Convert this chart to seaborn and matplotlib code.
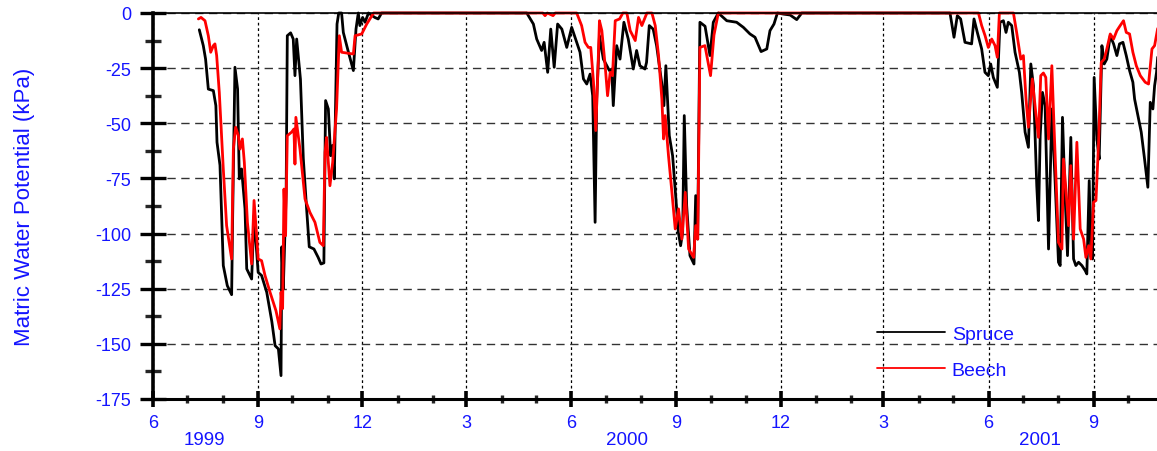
import numpy as np
import pandas as pd
import matplotlib
matplotlib.use("Agg")
import matplotlib.pyplot as plt
import matplotlib.dates as mdates
import matplotlib.transforms as mtransforms
from matplotlib.lines import Line2D
from matplotlib.ticker import MultipleLocator, FuncFormatter
import seaborn as sns

# ---- data (days since 1999-06-01, matric water potential in kPa) ----
start_date = "1999-06-01"
spruce_day = [40.5, 44, 46, 48.4, 52.8, 55, 56, 58.6, 61.5, 65, 68.8, 69.7, 71.7, 74, 75.5, 77.5,
              80.5, 82, 86.3, 88.4, 92, 95, 99.5, 104, 106.8, 109.7, 112, 112.7, 114, 116.5, 117.5,
              120.4, 122.7, 124.2, 125.7, 129, 131.5, 134.4, 136.7, 140.8, 144.5, 147, 149.5, 151,
              153.4, 155.4, 157.2, 158.6, 161, 162.5, 165, 166.5, 171, 175.3, 177.6, 179.6, 181,
              183.4, 185.5, 188.5, 194, 197, 200, 327, 332.8, 335.7, 340, 342.2, 345.3, 348, 351,
              354, 357.7, 362, 366.3, 370.7, 373.6, 376.6, 379.5, 382.4, 384.7, 386.8, 388.2, 390.6,
              394, 399.3, 401.3, 402.7, 405.7, 408.6, 412, 415.8, 420.2, 423.1, 426, 430.4, 431.8,
              434.2, 437.6, 440.6, 445, 447, 448.7, 451.7, 454.6, 457.5, 459.6, 461.6, 463.4, 464.8,
              466.9, 469.8, 473.3, 474.8, 476.5, 478.5, 483, 487.3, 490.2, 494.6, 502, 510.6, 516.5,
              522.3, 526.7, 532, 537, 539.8, 543.3, 546.3, 551.6, 557.4, 563.2, 567.6, 697.3, 700.8,
              703.7, 706.6, 710.4, 716.2, 718.3, 721.2, 725, 727.9, 730.8, 732.9, 735.2, 738.7, 741,
              744, 746.3, 748.3, 751.3, 754.2, 758, 760, 763, 765.9, 768, 770.3, 773.2, 774.7, 776.2,
              778.2, 780.5, 783.5, 786.4, 789.3, 792.2, 793.7, 795.7, 798.1, 800.1, 803, 805.4, 807.4,
              809.8, 812.7, 815.6, 817, 819.1, 820.5, 822, 823.4, 825.8, 827.8, 830.2, 832.2, 834.5,
              837.5, 840.4, 843.3, 845.6, 848.6, 851.5, 854.4, 857.3, 858.8, 861.7, 864.6, 867.5,
              870.4, 872.5, 874.8, 876.3, 878, 879]
spruce_kpa = [-7.6, -14.8, -20.9, -34.5, -35.2, -42, -58.6, -69, -114.5, -123.6, -127.7, -91.9, -24.6,
              -34.5, -75.2, -70.7, -88.8, -116, -120.6, -91.9, -117.6, -119, -126.6, -140, -150.8,
              -152.3, -164.4, -106, -125, -81, -10.3, -9, -11.8, -28.4, -11.8, -30, -66, -88.8, -106,
              -107, -110.8, -113.8, -113.3, -39.7, -43.5, -64.7, -60, -75.2, -5, 0, 0, -8.8, -17.8,
              -26.1, -7.3, 0, -5.7, -2, -4.2, 0, -2, -2.7, 0, 0, -5, -11.8, -17, -13.3, -26.9, -7.3,
              -24.6, -5, -7.3, -15.6, -6.5, -13.3, -17.8, -29.9, -32.2, -27.7, -37.5, -94.9, -39,
              -10.3, -20.9, -26.1, -25.4, -42, -14.8, -20.9, -4.2, -11.8, -25.4, -17, -23.9, -25.4,
              -22.4, -5.7, -7.3, -14.8, -31.4, -42, -23.9, -55.6, -64.7, -84.3, -99.4, -105.5, -99.4,
              -46.5, -87.3, -110, -113.8, -82.8, -102.5, -4.2, -6, -19.3, -4.2, 0, -3.5, -4.2, -6.5,
              -9.5, -11, -17.5, -16.3, -8, -5, 0, -0.5, -0.9, -3, 0, 0, -11, -1.2, -2.7, -13.3, -14,
              -2.7, -8.8, -16.3, -26.9, -28.4, -23.1, -29.2, -33.7, -4.2, -3.5, -8.8, -4.2, -5.7,
              -17.8, -26.9, -36, -54, -60.9, -23.1, -33, -78.3, -94.1, -55.6, -36, -42, -107, -43.5,
              -76.8, -113, -114.5, -47.3, -84.3, -110, -56.4, -111.5, -114.5, -113, -114.5, -116.8,
              -118.3, -76, -110, -111.5, -29.2, -57.1, -66.2, -14.8, -23.1, -20.9, -10.3, -14, -19.3,
              -14, -13.3, -19.3, -26.1, -31.4, -39, -46.5, -54, -66.2, -79, -40.5, -43.5, -33, -26.9,
              -20]

beech_day = [39.7, 42, 45.5, 48.4, 50.5, 52.8, 54.2, 55.7, 58, 61.5, 64.4, 68.8, 70.3, 72.3, 74.7,
             76.1, 78.2, 79.9, 82.6, 86.3, 88.4, 90.7, 92, 95, 98, 102.4, 107.6, 111, 112, 113.4,
             114.6, 116, 117.5, 121.3, 123.3, 124.2, 125, 128.6, 133, 137.3, 141.7, 146, 149, 150.5,
             151.9, 154.8, 157.2, 160.6, 163, 165, 175.3, 176.8, 182.6, 187, 193, 341, 343, 345, 350,
             352, 370.7, 375, 378, 380.9, 383, 385.4, 387.4, 388.9, 390.6, 392.7, 395.6, 397.7, 400,
             402, 404.4, 408.2, 411.1, 414.6, 417.5, 421.9, 424.8, 427.7, 432.1, 436.5, 439.4, 442.3,
             445.2, 446.7, 448.1, 451, 454, 456.9, 459.8, 462.7, 465.7, 468.6, 473, 474.8, 476.6,
             478.5, 482.9, 487.8, 490.8, 494.6, 722.2, 725, 728, 730.8, 733.8, 736.7, 738.7, 740.5,
             752.8, 755.6, 759.2, 761.5, 763.8, 765.9, 769.3, 772.6, 774.7, 776.7, 779, 781.1, 783.5,
             786.4, 788.5, 792.2, 795.2, 796.6, 798.7, 801, 803, 805.4, 808.3, 811.2, 814.2, 816.2,
             818.6, 820.5, 822.9, 825, 827.3, 829.6, 832.2, 834.5, 837.5, 840.4, 843.3, 846.2, 849.1,
             851.5, 854.4, 857.3, 860.3, 863.8, 868.1, 871, 874, 876.3, 878.6, 879]
beech_kpa = [-2.7, -2, -3.5, -10.3, -17.8, -14.8, -14, -19.3, -36, -70.7, -96.4, -111.5, -61.7, -51.8,
             -55.6, -61.7, -57.1, -67.7, -94.9, -113.8, -85, -101, -111.5, -112.3, -119, -126.6, -135,
             -143.2, -126.6, -134, -79.8, -101, -55.6, -54, -52.6, -68.5, -47.3, -61.7, -84.3, -90.4,
             -94.9, -104, -105.5, -63.2, -56.4, -78.3, -67.7, -43.5, -10.3, -17.8, -18.6, -10.3, -9.5,
             -5, 0, 0, -1.2, 0, -1.2, 0, 0, -5.7, -13.3, -15.6, -15.6, -31.4, -53.3, -31.4, -3.5, -8,
             -23.9, -37.5, -26.9, -28.4, -3.5, -2.7, 0, 0, -8, -12.5, -2, -5.7, 0, 0, -5.7, -19.3, -39,
             -57.1, -46.5, -64.7, -81.3, -97.9, -88.8, -102.5, -81.3, -107, -110.8, -96.4, -102.5,
             -15.6, -14.8, -28.4, -10, 0, 0, -5.7, -10.3, -15.6, -11.8, -14.8, -20.1, 0, 0, -8.8,
             -20.9, -19.3, -39, -51.8, -29.9, -46.5, -56.4, -28.4, -27.2, -29.2, -57.1, -23.9, -54,
             -104, -107, -66.2, -79.8, -96.4, -69.2, -102.5, -58.6, -97.9, -102.5, -110.8, -105.5,
             -111.5, -85.8, -85, -58.6, -22.4, -20.9, -16.3, -9.5, -11.8, -8, -5.7, -3.5, -8.8, -9.5,
             -17.8, -23.9, -28.4, -31.4, -32.2, -16.3, -14.8, -8, -7]

series_names = ["Spruce", "Beech"]
series_colors = ["black", "red"]
year_labels = ["1999", "2000", "2001"]
year_label_dates = ["1999-07-16", "2000-07-20", "2001-07-16"]
y_ticks = [0, -25, -50, -75, -100, -125, -150, -175]

# ---- build long-form table ----
t0 = pd.Timestamp(start_date)
df = pd.concat([
    pd.DataFrame({"date": t0 + pd.to_timedelta(spruce_day, unit="D"), "kPa": spruce_kpa, "tree": "Spruce"}),
    pd.DataFrame({"date": t0 + pd.to_timedelta(beech_day, unit="D"), "kPa": beech_kpa, "tree": "Beech"}),
], ignore_index=True)

sns.set_style("white")
plt.rcParams["font.family"] = ["Liberation Sans", "DejaVu Sans"]
BLUE = "#1414ff"

fig = plt.figure(figsize=(11.57, 4.52), dpi=100)
ax = fig.add_axes([153 / 1157, 1 - 400 / 452, 1004 / 1157, 386 / 452])

sns.lineplot(data=df, x="date", y="kPa", hue="tree", hue_order=series_names,
             palette=dict(zip(series_names, series_colors)), estimator=None, sort=False,
             linewidth=2.0, legend=False, ax=ax)
for ln in ax.lines:
    ln.set_clip_on(False)
    ln.set_zorder(3)

# axes limits
ax.set_xlim(t0, t0 + pd.Timedelta(days=878.4))
ax.set_ylim(-175, 0)

# ticks
ax.xaxis.set_major_locator(mdates.MonthLocator(bymonth=[3, 6, 9, 12]))
ax.xaxis.set_minor_locator(mdates.MonthLocator())
ax.xaxis.set_major_formatter(FuncFormatter(lambda v, p: str(mdates.num2date(v).month)))
ax.set_yticks(y_ticks)
ax.yaxis.set_minor_locator(MultipleLocator(12.5))
ax.yaxis.set_major_formatter(FuncFormatter(lambda v, p: f"{int(round(v))}"))

ax.tick_params(axis="y", which="major", direction="inout", length=19, width=2.4,
               colors="black", labelcolor=BLUE, labelsize=13, pad=6, left=True)
ax.tick_params(axis="y", which="minor", direction="inout", length=11, width=2.4, left=True)
ax.tick_params(axis="x", which="major", direction="inout", length=11, width=2.6,
               colors="black", labelcolor=BLUE, labelsize=13, pad=5, bottom=True)
ax.tick_params(axis="x", which="minor", direction="inout", length=6, width=2.4, bottom=True)

# spines
ax.spines["left"].set_linewidth(2.6)
ax.spines["bottom"].set_linewidth(2.2)
ax.spines["top"].set_linewidth(1.2)
ax.spines["right"].set_visible(False)
for s in ["left", "bottom", "top"]:
    ax.spines[s].set_color("black")
    ax.spines[s].set_zorder(4)

# grid
ax.set_axisbelow(True)
ax.yaxis.grid(True, which="major", linestyle=(0, (6, 4)), color="#333333", linewidth=1.0)
ax.xaxis.grid(True, which="major", linestyle=(0, (2.2, 2.2)), color="black", linewidth=0.9)

# labels
ax.set_xlabel("")
ax.set_ylabel("Matric Water Potential (kPa)", color=BLUE, fontsize=16)
ax.yaxis.set_label_coords(-0.118, 0.5)

trans = mtransforms.blended_transform_factory(ax.transData, ax.transAxes)
for lab, d in zip(year_labels, year_label_dates):
    ax.text(mdates.date2num(pd.Timestamp(d)), -0.106, lab, transform=trans, ha="center",
            va="center", color=BLUE, fontsize=13.5)

# legend
handles = [Line2D([], [], color=c, linewidth=1.3) for c in series_colors]
leg = ax.legend(handles, series_names, loc="upper left", bbox_to_anchor=(0.721, 0.191),
                frameon=False, fontsize=14, handlelength=3.5, handletextpad=0.35,
                labelspacing=0.96, borderaxespad=0, borderpad=0)
for t in leg.get_texts():
    t.set_color(BLUE)

fig.savefig("out.png", dpi=100, facecolor="white")
